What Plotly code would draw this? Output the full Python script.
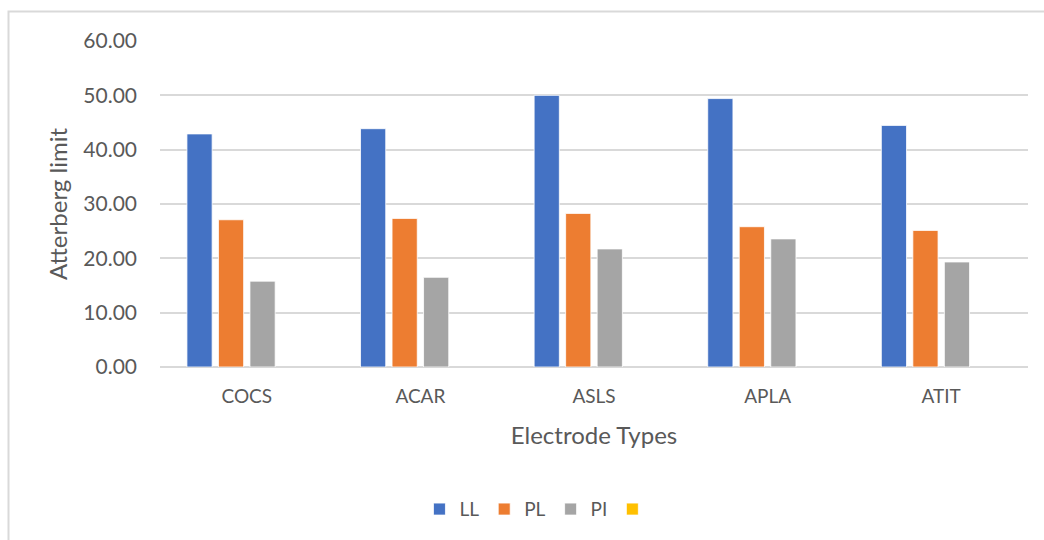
import plotly.graph_objects as go

# Atterberg limits per electrode type
categories = ["COCS", "ACAR", "ASLS", "APLA", "ATIT"]
ll_values = [42.90, 43.86, 50.00, 49.40, 44.47]
pl_values = [27.10, 27.35, 28.27, 25.82, 25.14]
pi_values = [15.80, 16.51, 21.73, 23.58, 19.33]
empty_values = [None, None, None, None, None]

series = [
    ("LL", ll_values, "#4472C4"),
    ("PL", pl_values, "#ED7D31"),
    ("PI", pi_values, "#A5A5A5"),
    ("", empty_values, "#FFC000"),
]

FONT = "Lato"
TEXT = "#595959"
GRID = "#D9D9D9"

fig = go.Figure()
for name, vals, color in series:
    fig.add_trace(go.Bar(
        x=categories, y=vals, name=name,
        marker=dict(color=color, line=dict(color="white", width=0.8)),
        showlegend=True,
    ))

W, H = 1044, 540
L, R, T, B = 160, 16, 41, 173

fig.update_layout(
    width=W, height=H,
    margin=dict(l=L, r=R, t=T, b=B, pad=0),
    paper_bgcolor="white", plot_bgcolor="white",
    barmode="group", bargap=0.274, bargroupgap=0.2,
    font=dict(family=FONT, color=TEXT, size=19),
    xaxis=dict(
        title=dict(text="Electrode Types", font=dict(size=24), standoff=21),
        showgrid=False, showline=False, ticks="",
        tickfont=dict(size=19), ticklabelstandoff=16,
    ),
    yaxis=dict(
        title=dict(text="Atterberg limit", font=dict(size=24), standoff=8),
        range=[0, 60], dtick=10, tickformat=".2f",
        showgrid=True, gridcolor=GRID, gridwidth=2,
        zeroline=True, zerolinecolor=GRID, zerolinewidth=2,
        showline=False, ticks="", ticklabelstandoff=22,
        tickfont=dict(size=21),
    ),
    legend=dict(
        orientation="h", x=0.436, xanchor="center", y=-0.378, yanchor="top",
        font=dict(size=19), itemwidth=30, traceorder="normal",
    ),
)

# light chart-area border running off the right and bottom edges
pw, ph = W - L - R, H - T - B
fig.add_shape(
    type="rect", xref="paper", yref="paper",
    x0=(8.5 - L) / pw, x1=(W + 10 - L) / pw,
    y0=(H - B - (H + 10)) / ph, y1=(H - B - 11.5) / ph,
    line=dict(color=GRID, width=2), fillcolor="rgba(0,0,0,0)", layer="below",
)

fig.write_html("out.html")
